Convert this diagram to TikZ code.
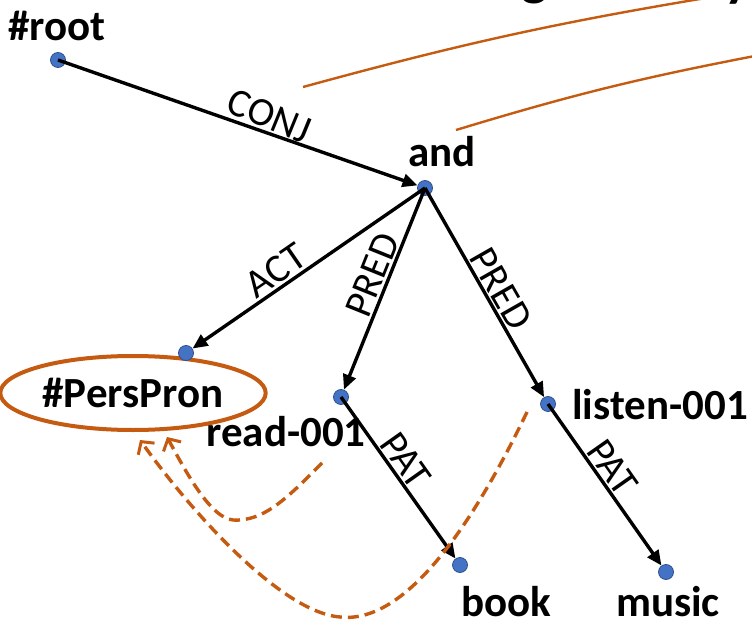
\documentclass[tikz,border=0pt]{standalone}
\usepackage{fontspec}
\setmainfont{Carlito}
\usetikzlibrary{arrows.meta,shapes.geometric}
\definecolor{dotblue}{RGB}{68,114,196}
\definecolor{dotrim}{RGB}{47,82,143}
\definecolor{rust}{RGB}{197,90,17}

\begin{document}
\begin{tikzpicture}[x=1pt,y=-1pt,line width=3.4pt,
    >={Triangle[length=15pt,width=13pt]},
    dot/.style={circle,fill=dotblue,draw=dotrim,line width=0.8pt,
      inner sep=0pt,minimum size=15pt},
    word/.style={font=\bfseries\fontsize{43}{43}\selectfont,inner sep=0pt},
    rel/.style={font=\fontsize{40}{40}\selectfont,sloped,above,inner sep=2pt},
    coref/.style={rust,line width=3.4pt,dash pattern=on 11pt off 6pt,
      -{Straight Barb[length=9pt,width=20pt,line width=3pt]}}]
  \useasboundingbox (0,0) rectangle (752,620);
  \begin{scope}
    \clip (0,0) rectangle (752,620);
    % fragments of the text above the picture
    \node[word,font=\bfseries\fontsize{56}{56}\selectfont,anchor=base]
      (frag1) at (535,-5) {g};
    \node[word,font=\bfseries\fontsize{56}{56}\selectfont,anchor=base]
      (frag2) at (738,-4) {y};
    \coordinate (far1) at (730,-6);
    \coordinate (far2) at (760,55);
    \coordinate (from1) at (303,87);
    \coordinate (from2) at (456,130);
    \draw[rust,line width=2.4pt] (from1) to[bend left=3] (far1);
    \draw[rust,line width=2.4pt] (from2) to[bend left=3] (far2);
  \end{scope}
  % pronoun
  \node[ellipse,draw=rust,line width=4pt,minimum width=238pt,
    minimum height=74pt,font=\bfseries\fontsize{43}{43}\selectfont]
    (pers) at (133,393) {\#PersPron};
  % tree nodes
  \node[dot] (root) at (58,60) {};
  \node[dot] (and) at (425,188) {};
  \node[dot] (act) at (186,353) {};
  \node[dot] (read) at (341,397) {};
  \node[dot] (listen) at (548,404) {};
  \node[dot] (book) at (460,565) {};
  \node[dot] (music) at (666,572) {};
  \node[word] (rootlab) at (57,26) {\#root};
  \node[word] (andlab) at (442,152) {and};
  \node[word] (readlab) at (286,432) {read-001};
  \node[word] (listenlab) at (660,405) {listen-001};
  \node[word] (booklab) at (506,602) {book};
  \node[word] (musiclab) at (668,602) {music};
  % relations
  \draw[->] (root.center) -- node[rel,pos=0.57,rotate=-3]{CONJ} (and);
  \draw[->] (and.center) -- node[rel,pos=0.6]{ACT} (act);
  \draw[->] (and.center) -- node[rel,pos=0.46]{PRED} (read);
  \draw[->] (and.center) -- node[rel,pos=0.52]{PRED} (listen);
  \draw[->] (read.center) -- node[rel,pos=0.45]{PAT} (book);
  \draw[->] (listen.center) -- node[rel,pos=0.45]{PAT} (music);
  % coreference
  \coordinate (c1) at (322,463);
  \coordinate (c2) at (527,412);
  \draw[coref] (c1) .. controls (290,495) and (265,522) .. (233,520)
    .. controls (210,518) and (185,470) .. (167,437);
  \draw[coref] (c2) .. controls (480,510) and (410,625) .. (340,617)
    .. controls (280,612) and (190,510) .. (140,440);
\end{tikzpicture}
\end{document}
